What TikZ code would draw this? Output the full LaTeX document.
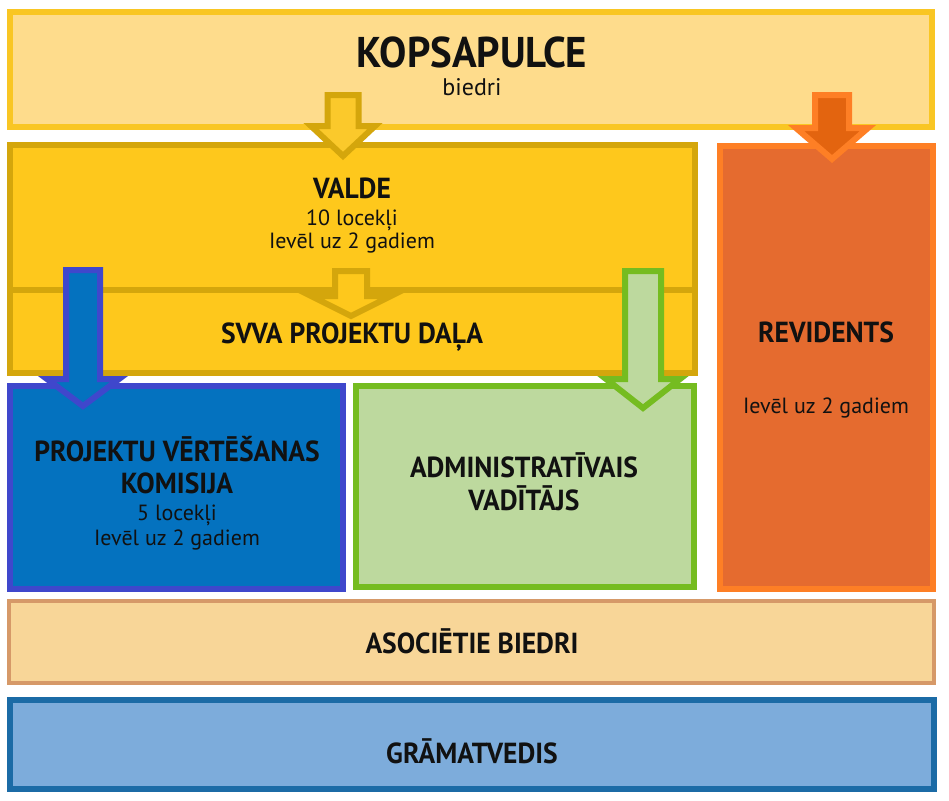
\documentclass[tikz,border=0pt]{standalone}
\usepackage{fontspec}
\setmainfont{PT Sans}[BoldFeatures={FakeStretch=0.95}]
\definecolor{kopfill}{HTML}{FEDC8C}
\definecolor{kopline}{HTML}{F9C623}
\definecolor{valfill}{HTML}{FEC81C}
\definecolor{valline}{HTML}{D4A60C}
\definecolor{arrgold}{HTML}{FBC92B}
\definecolor{revfill}{HTML}{E56B2F}
\definecolor{revline}{HTML}{FE7F25}
\definecolor{revarr}{HTML}{E3640F}
\definecolor{prjfill}{HTML}{0472BF}
\definecolor{prjline}{HTML}{3F47CC}
\definecolor{admfill}{HTML}{BDD99E}
\definecolor{admline}{HTML}{75BC20}
\definecolor{asofill}{HTML}{F8D698}
\definecolor{asoline}{HTML}{D69968}
\definecolor{gramfill}{HTML}{7DACDB}
\definecolor{gramline}{HTML}{1B6BA6}
\definecolor{txt}{HTML}{111111}
\newcommand\blkarrow[8]{%
  \filldraw[draw=#1,fill=#2,line width=6pt,line join=miter]
    ({#3-#7},{#4}) -- ({#3+#7},{#4}) -- ({#3+#7},{#5}) -- ({#3+#8},{#5})
    -- ({#3},{#6}) -- ({#3-#8},{#5}) -- ({#3-#7},{#5}) -- cycle;}
\begin{document}
\begin{tikzpicture}[x=1pt,y=-1pt,
  bt/.style={font=\bfseries\fontsize{29}{29}\selectfont,text=txt,anchor=base,inner sep=0pt},
  rt/.style={font=\fontsize{22}{22}\selectfont,text=txt,anchor=base,inner sep=0pt}]
\useasboundingbox[fill=white] (0,0) rectangle (949,800);
% boxes
\filldraw[kopline,fill=kopfill,line width=6pt] (10,12) rectangle (932,127);
\node (kop) at (471,69) {};
\filldraw[valline,fill=valfill,line width=6pt] (10,145) rectangle (695,373);
\draw[valline,line width=6pt] (10,290) -- (695,290);
\node (valde) at (352,210) {};
\filldraw[revline,fill=revfill,line width=6pt] (720,146) rectangle (933,589);
\node (rev) at (826,370) {};
\filldraw[prjline,fill=prjfill,line width=6pt] (10,386) rectangle (343,589);
\node (prj) at (177,490) {};
\filldraw[admline,fill=admfill,line width=6pt] (356,386) rectangle (694,587);
\node (adm) at (524,490) {};
\filldraw[asoline,fill=asofill,line width=4pt] (9,601) rectangle (934,683);
\node (aso) at (472,642) {};
\filldraw[gramline,fill=gramfill,line width=6pt] (10,700) rectangle (934,789);
\node (gram) at (472,745) {};
% arrows
\blkarrow{valline}{arrgold}{343}{95}{126}{156}{15.5}{32}
\blkarrow{valline}{valfill}{351}{271}{296}{316}{16}{40}
\blkarrow{revline}{revarr}{832}{95}{128}{159}{17}{36}
\blkarrow{prjline}{prjfill}{83}{270}{379}{406}{17}{36}
\blkarrow{admline}{admfill}{643}{271}{379}{408}{18}{37}
% texts
\node[bt,font=\bfseries\fontsize{43}{43}\selectfont] (tkop) at (472,67) {KOPSAPULCE};
\node[rt,font=\fontsize{24}{24}\selectfont] (tkop2) at (472,95) {biedri};
\node[bt] (tval) at (352,198) {VALDE};
\node[rt] (tval2) at (352,225) {10 locekļi};
\node[rt] (tval3) at (352,248) {Ievēl uz 2 gadiem};
\node[bt] (tsvva) at (352,343) {SVVA PROJEKTU DAĻA};
\node[bt] (trev) at (826,342) {REVIDENTS};
\node[rt] (trev2) at (826,413) {Ievēl uz 2 gadiem};
\node[bt] (tprj1) at (177,461) {PROJEKTU VĒRTĒŠANAS};
\node[bt] (tprj2) at (177,493) {KOMISIJA};
\node[rt] (tprj3) at (177,520) {5 locekļi};
\node[rt] (tprj4) at (177,545) {Ievēl uz 2 gadiem};
\node[bt] (tadm1) at (524,477) {ADMINISTRATĪVAIS};
\node[bt] (tadm2) at (524,510) {VADĪTĀJS};
\node[bt] (taso) at (472,653) {ASOCIĒTIE BIEDRI};
\node[bt] (tgram) at (472,763) {GRĀMATVEDIS};
\end{tikzpicture}
\end{document}
